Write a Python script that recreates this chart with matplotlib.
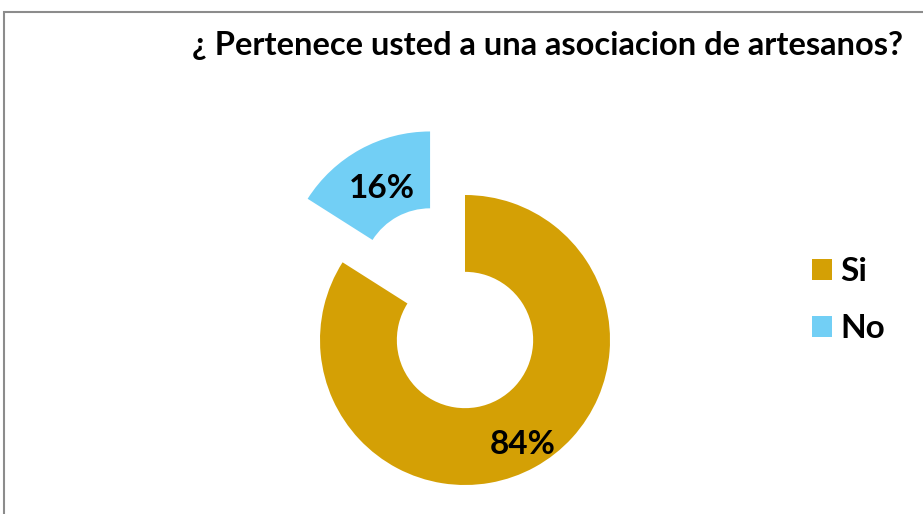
import matplotlib.pyplot as plt
import numpy as np
from matplotlib.patches import Rectangle

# ============================================
# DATA
# ============================================

categories = ["Si", "No"]
values = [84, 16]
colors = ["#D4A005", "#72CFF5"]
title = "¿ Pertenece usted a una asociacion de artesanos?"

# ============================================
# FIGURE
# ============================================

W, H = 923, 514
fig = plt.figure(figsize=(W / 100, H / 100), dpi=100)
ax = fig.add_axes([0, 0, 1, 1])

plt.rcParams["font.family"] = ["Lato", "DejaVu Sans"]

radius = 145
center = (465, H - 340)

wedges, _ = ax.pie(
    values,
    colors=colors,
    startangle=90,
    counterclock=False,
    radius=radius,
    center=center,
    explode=[0, 0.5 * radius],
    wedgeprops=dict(width=0.53 * radius, linewidth=0),
    frame=True,
)
ax.set_xlim(0, W)
ax.set_ylim(0, H)
ax.set_aspect("equal")
ax.axis("off")

# percentage labels placed along each wedge's middle angle
label_dist = [0.82, 0.69]
total = sum(values)
for w, v, d in zip(wedges, values, label_dist):
    mid = np.deg2rad((w.theta1 + w.theta2) / 2)
    cx, cy = w.center
    ax.text(cx + d * w.r * np.cos(mid), cy + d * w.r * np.sin(mid),
            f"{round(100 * v / total)}%", ha="center", va="center",
            fontsize=24, fontweight="bold", color="black")

fig.text(548 / W, 1 - 45 / H, title, ha="center", va="center",
         fontsize=23.5, fontweight="bold")

fig.legend(wedges, categories, loc="center left",
           bbox_to_anchor=(812 / W, 1 - 300 / H), frameon=False,
           prop=dict(weight="bold", size=24),
           handlelength=0.6, handleheight=0.6, handletextpad=0.25,
           labelspacing=0.85, borderpad=0, borderaxespad=0)

fig.patches.append(Rectangle((4 / W, -0.05), 1.2, 1 - 12 / H + 0.05,
                             transform=fig.transFigure, fill=False,
                             edgecolor="#8C8C8C", linewidth=1.5))

fig.savefig("out.png", dpi=100)
